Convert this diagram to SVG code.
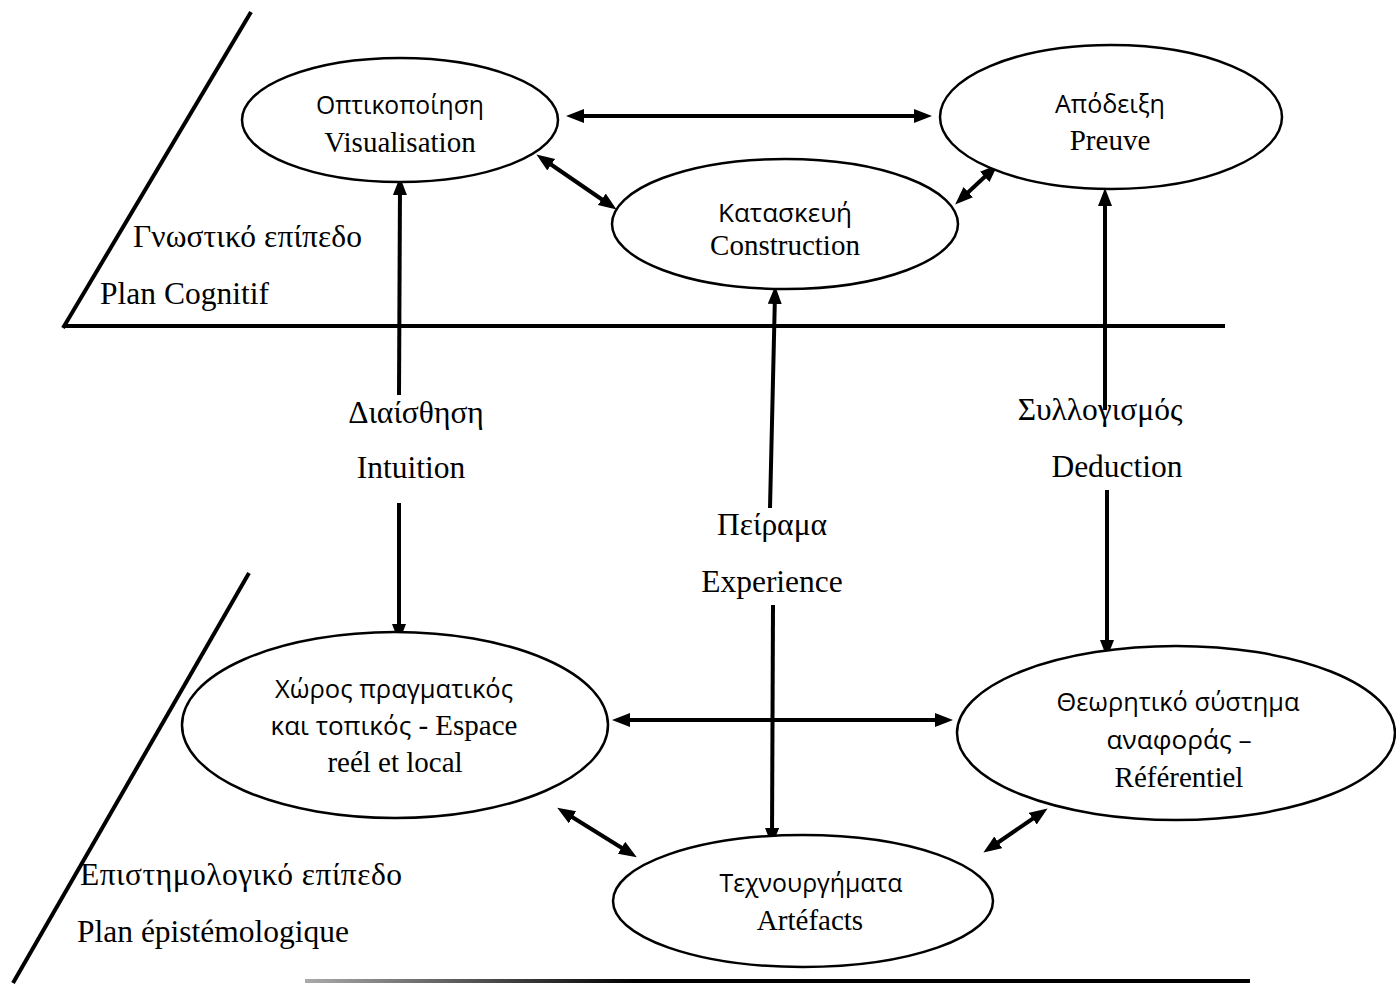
<svg xmlns="http://www.w3.org/2000/svg" width="1396" height="985" viewBox="0 0 1396 985">
<style>
.node ellipse{fill:#fff;stroke:#000;stroke-width:2.5}
.sans{font-family:"Open Sans","Noto Sans",sans-serif;font-size:26px;fill:#000}
.serif{font-family:"Liberation Serif","DejaVu Serif",serif;font-size:29px;fill:#000}
.lbl{font-family:"Liberation Serif","DejaVu Serif",serif;font-size:31.5px;fill:#000}
.c{text-anchor:middle}
.conn line{stroke:#000;stroke-width:4}
.frame line{stroke:#000;stroke-width:4}
</style>
<defs>
<marker id="ah" markerUnits="userSpaceOnUse" markerWidth="20" markerHeight="16" refX="10" refY="7" orient="auto-start-reverse">
<path d="M0,0 L18,7 L0,14 z" fill="#000"/>
</marker>
<linearGradient id="bl" x1="305" y1="0" x2="1250" y2="0" gradientUnits="userSpaceOnUse">
<stop offset="0" stop-color="#aaa"/>
<stop offset="0.35" stop-color="#000"/>
<stop offset="1" stop-color="#000"/>
</linearGradient>
</defs>

<g id="frame" class="frame">
<line x1="251" y1="12" x2="63" y2="328"/>
<line x1="63" y1="326" x2="1225" y2="326"/>
<line x1="249" y1="573" x2="13" y2="983"/>
<line x1="305" y1="981" x2="1250" y2="981" style="stroke:url(#bl)"/>
</g>

<g id="connectors" class="conn">
<line x1="574" y1="116" x2="924" y2="116" marker-start="url(#ah)" marker-end="url(#ah)"/>
<line x1="543" y1="159" x2="610" y2="205" marker-start="url(#ah)" marker-end="url(#ah)"/>
<line x1="961" y1="199" x2="992" y2="170" marker-start="url(#ah)" marker-end="url(#ah)"/>
<line x1="620" y1="720" x2="945" y2="720" marker-start="url(#ah)" marker-end="url(#ah)"/>
<line x1="564" y1="812" x2="630" y2="853" marker-start="url(#ah)" marker-end="url(#ah)"/>
<line x1="990" y1="848" x2="1041" y2="813" marker-start="url(#ah)" marker-end="url(#ah)"/>
<line x1="399" y1="395" x2="400" y2="185" marker-end="url(#ah)"/>
<line x1="399" y1="503" x2="399" y2="634" marker-end="url(#ah)"/>
<line x1="770" y1="508" x2="775" y2="294" marker-end="url(#ah)"/>
<line x1="773" y1="605" x2="772" y2="838" marker-end="url(#ah)"/>
<line x1="1105" y1="410" x2="1105" y2="196" marker-end="url(#ah)"/>
<line x1="1107" y1="490" x2="1107" y2="650" marker-end="url(#ah)"/>
</g>

<g id="n-visualisation" class="node">
<ellipse cx="400" cy="120" rx="158" ry="62"/>
<text class="sans c" x="400" y="114" textLength="168" lengthAdjust="spacingAndGlyphs">Οπτικοποίηση</text>
<text class="serif c" x="400" y="152">Visualisation</text>
</g>

<g id="n-preuve" class="node">
<ellipse cx="1111" cy="117" rx="171" ry="72"/>
<text class="sans c" x="1110" y="113" textLength="110" lengthAdjust="spacingAndGlyphs">Απόδειξη</text>
<text class="serif c" x="1110" y="150">Preuve</text>
</g>

<g id="n-construction" class="node">
<ellipse cx="785" cy="224" rx="173" ry="65"/>
<text class="sans c" x="785" y="222" textLength="134" lengthAdjust="spacingAndGlyphs">Κατασκευή</text>
<text class="serif c" x="785" y="255">Construction</text>
</g>

<g id="n-espace" class="node">
<ellipse cx="395" cy="725" rx="213" ry="93"/>
<text class="sans c" x="394" y="698" textLength="238" lengthAdjust="spacingAndGlyphs">Χώρος πραγματικός</text>
<text class="c" x="394" y="735"><tspan class="sans">και τοπικός</tspan><tspan class="serif"> - Espace</tspan></text>
<text class="serif c" x="395" y="772">reél et local</text>
</g>

<g id="n-referentiel" class="node">
<ellipse cx="1176" cy="733" rx="219" ry="87"/>
<text class="sans c" x="1178" y="711" textLength="243" lengthAdjust="spacingAndGlyphs">Θεωρητικό σύστημα</text>
<text class="sans c" x="1179" y="749" textLength="145" lengthAdjust="spacingAndGlyphs">αναφοράς –</text>
<text class="serif c" x="1179" y="787">Référentiel</text>
</g>

<g id="n-artefacts" class="node">
<ellipse cx="803" cy="901" rx="190" ry="66"/>
<text class="sans c" x="811" y="892" textLength="183" lengthAdjust="spacingAndGlyphs">Τεχνουργήματα</text>
<text class="serif c" x="810" y="930">Artéfacts</text>
</g>

<g id="labels">
<text class="lbl c" x="416" y="423">Διαίσθηση</text>
<text class="lbl c" x="411" y="478">Intuition</text>
<text class="lbl c" x="772" y="535">Πείραμα</text>
<text class="lbl c" x="772" y="592">Experience</text>
<text class="lbl c" x="1100" y="420">Συλλογισμός</text>
<text class="lbl c" x="1117" y="477">Deduction</text>
<text class="lbl" x="133" y="247" textLength="229">Γνωστικό επίπεδο</text>
<text class="lbl" x="100" y="304">Plan Cognitif</text>
<text class="lbl" x="80" y="885" textLength="322">Επιστημολογικό επίπεδο</text>
<text class="lbl" x="77" y="942">Plan épistémologique</text>
</g>
</svg>
